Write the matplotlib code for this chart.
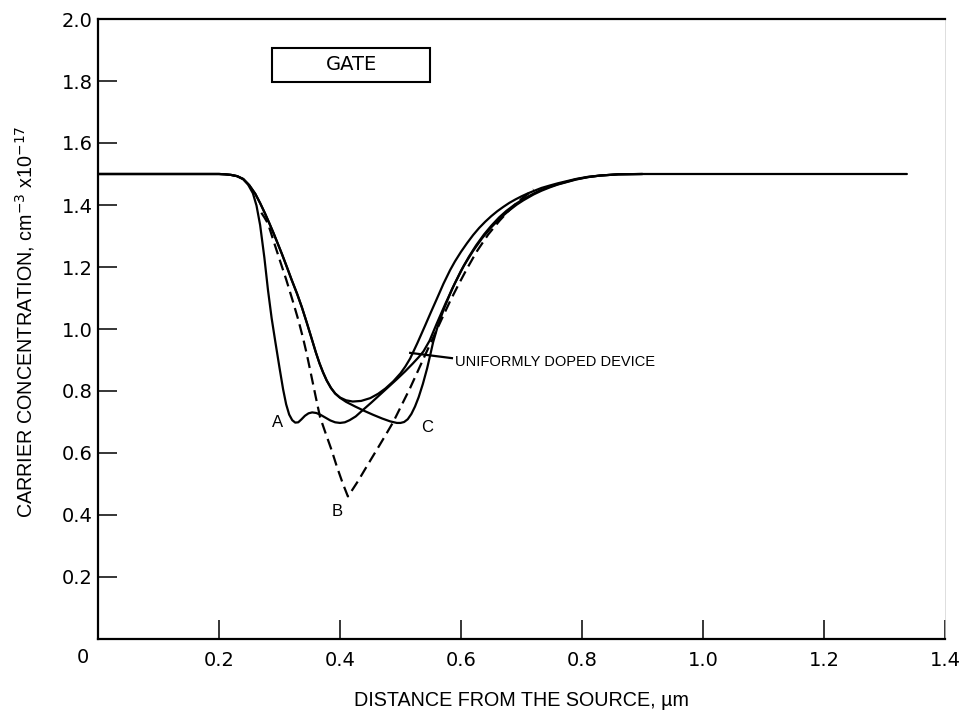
import matplotlib
matplotlib.use("Agg")
import matplotlib.pyplot as plt

# Carrier concentration profiles under the gate (x in um, n in 1e17 cm^-3)
uniform_x = [0.0, 0.20, 0.21, 0.22, 0.23, 0.24, 0.25, 0.26, 0.268, 0.276, 0.283, 0.29,
             0.296, 0.304, 0.312, 0.32, 0.329, 0.337, 0.345, 0.353, 0.36, 0.366, 0.372,
             0.378, 0.385, 0.392, 0.40, 0.41, 0.421, 0.435, 0.45, 0.463, 0.475, 0.488,
             0.50, 0.508, 0.516, 0.528, 0.54, 0.55, 0.56, 0.571, 0.582, 0.59, 0.60,
             0.61, 0.62, 0.63, 0.64, 0.65, 0.66, 0.67, 0.68, 0.69, 0.70, 0.71, 0.72,
             0.733, 0.747, 0.76, 0.775, 0.79, 0.81, 0.83, 0.86, 0.90, 1.0, 1.2, 1.337]
uniform_y = [1.5, 1.5, 1.499, 1.497, 1.493, 1.484, 1.464, 1.436, 1.406, 1.373, 1.342, 1.31,
             1.281, 1.242, 1.201, 1.159, 1.114, 1.07, 1.021, 0.97, 0.925, 0.89, 0.86,
             0.834, 0.81, 0.792, 0.779, 0.77, 0.766, 0.768, 0.777, 0.791, 0.808, 0.831,
             0.857, 0.879, 0.905, 0.955, 1.008, 1.053, 1.097, 1.146, 1.19, 1.218, 1.249,
             1.277, 1.303, 1.326, 1.346, 1.364, 1.38, 1.394, 1.407, 1.418, 1.428, 1.437,
             1.445, 1.455, 1.463, 1.47, 1.477, 1.484, 1.491, 1.495, 1.499, 1.5, 1.5, 1.5,
             1.5]

curve_a_x = [0.0, 0.20, 0.21, 0.22, 0.23, 0.24, 0.248, 0.256, 0.262, 0.268, 0.275, 0.281,
             0.287, 0.293, 0.30, 0.306, 0.311, 0.316, 0.321, 0.326, 0.331, 0.336, 0.342,
             0.348, 0.354, 0.361, 0.368, 0.376, 0.384, 0.392, 0.40, 0.408, 0.416, 0.426,
             0.438, 0.452, 0.466, 0.48, 0.494, 0.508, 0.52, 0.53, 0.538, 0.548, 0.56,
             0.575, 0.59, 0.605, 0.62, 0.635, 0.65, 0.665, 0.68, 0.692, 0.703, 0.72,
             0.733, 0.747, 0.76, 0.775, 0.79, 0.81, 0.83, 0.86, 0.90]
curve_a_y = [1.5, 1.5, 1.499, 1.497, 1.493, 1.483, 1.466, 1.438, 1.398, 1.335, 1.23, 1.125,
             1.035, 0.96, 0.875, 0.805, 0.757, 0.724, 0.706, 0.698, 0.699, 0.708, 0.72,
             0.728, 0.731, 0.729, 0.723, 0.714, 0.705, 0.699, 0.697, 0.699, 0.706, 0.718,
             0.739, 0.763, 0.788, 0.813, 0.838, 0.864, 0.888, 0.909, 0.928, 0.962, 1.018,
             1.085, 1.148, 1.205, 1.252, 1.293, 1.328, 1.358, 1.383, 1.401, 1.415, 1.434,
             1.446, 1.457, 1.466, 1.474, 1.482, 1.49, 1.495, 1.499, 1.5]

curve_c_x = [0.0, 0.20, 0.21, 0.22, 0.23, 0.24, 0.25, 0.26, 0.268, 0.276, 0.283, 0.29,
             0.296, 0.304, 0.312, 0.32, 0.329, 0.337, 0.345, 0.353, 0.36, 0.366, 0.372,
             0.378, 0.385, 0.392, 0.40, 0.41, 0.425, 0.44, 0.455, 0.47, 0.483, 0.494,
             0.50, 0.506, 0.512, 0.518, 0.524, 0.53, 0.537, 0.544, 0.549, 0.554, 0.562,
             0.572, 0.585, 0.60, 0.613, 0.625, 0.638, 0.65, 0.663, 0.675, 0.69, 0.703,
             0.72, 0.733, 0.747, 0.76, 0.775, 0.79, 0.81, 0.83, 0.86, 0.90]
curve_c_y = [1.5, 1.5, 1.499, 1.497, 1.493, 1.484, 1.464, 1.436, 1.406, 1.373, 1.342, 1.31,
             1.281, 1.242, 1.201, 1.159, 1.114, 1.07, 1.021, 0.97, 0.925, 0.89, 0.86,
             0.834, 0.81, 0.792, 0.778, 0.765, 0.75, 0.736, 0.723, 0.711, 0.702, 0.697,
             0.697, 0.70, 0.709, 0.726, 0.75, 0.78, 0.823, 0.873, 0.915, 0.958, 1.012,
             1.066, 1.128, 1.188, 1.233, 1.27, 1.305, 1.333, 1.36, 1.381, 1.403, 1.419,
             1.437, 1.449, 1.459, 1.467, 1.475, 1.483, 1.49, 1.495, 1.499, 1.5]

curve_b_x = [0.27, 0.275, 0.281, 0.29, 0.30, 0.311, 0.322, 0.331, 0.339, 0.345, 0.352,
             0.36, 0.367, 0.376, 0.386, 0.395, 0.404, 0.413, 0.42, 0.43, 0.44, 0.452,
             0.465, 0.476, 0.488, 0.502, 0.516, 0.53, 0.544, 0.557, 0.57, 0.582, 0.595,
             0.61, 0.626, 0.645, 0.664, 0.682, 0.70, 0.72]
curve_b_y = [1.375, 1.36, 1.34, 1.285, 1.225, 1.16, 1.09, 1.03, 0.97, 0.92, 0.855,
             0.78, 0.716, 0.665, 0.61, 0.555, 0.505, 0.46, 0.48, 0.51, 0.543, 0.582,
             0.624, 0.66, 0.70, 0.755, 0.81, 0.87, 0.93, 0.985, 1.04, 1.09, 1.14,
             1.195, 1.25, 1.305, 1.35, 1.388, 1.42, 1.45]

x_ticks = [0.2, 0.4, 0.6, 0.8, 1.0, 1.2, 1.4]
x_tick_labels = ["0.2", "0.4", "0.6", "0.8", "1.0", "1.2", "1.4"]
y_ticks = [0.2, 0.4, 0.6, 0.8, 1.0, 1.2, 1.4, 1.6, 1.8, 2.0]
y_tick_labels = ["0.2", "0.4", "0.6", "0.8", "1.0", "1.2", "1.4", "1.6", "1.8", "2.0"]

curve_labels = [("A", 0.297, 0.697), ("B", 0.395, 0.412), ("C", 0.544, 0.681)]

fig = plt.figure(figsize=(9.61, 7.13), dpi=100)
ax = fig.add_axes([98 / 961, 74 / 713, (945 - 98) / 961, (639 - 19) / 713])

lw = 1.6
for xs, ys in [(uniform_x, uniform_y), (curve_a_x, curve_a_y), (curve_c_x, curve_c_y)]:
    ax.plot(xs, ys, color="black", lw=lw, solid_joinstyle="round",
            solid_capstyle="round")
ax.plot(curve_b_x, curve_b_y, color="black", lw=lw, linestyle=(0, (5, 2.6)))

ax.set_xlim(0, 1.4)
ax.set_ylim(0, 2.0)

for side in ["left", "bottom", "top"]:
    ax.spines[side].set_linewidth(1.6)
ax.spines["right"].set_linewidth(0.5)
ax.spines["right"].set_color("#d0d0d0")

tick_font = dict(family="DejaVu Sans", size=14)
ax.set_xticks(x_ticks)
ax.set_xticklabels(x_tick_labels, **tick_font)
ax.set_yticks(y_ticks)
ax.set_yticklabels(y_tick_labels, **tick_font)
ax.tick_params(axis="both", direction="in", length=13.5, width=1.1, color="black")
ax.tick_params(axis="x", pad=9)
ax.tick_params(axis="y", pad=4)

# origin label shared by both axes
ax.text(-0.025, -0.03, "0", ha="center", va="top", fontsize=14, family="DejaVu Sans",
        transform=ax.transData, clip_on=False)

label_font = dict(family="Liberation Sans", size=10.5)
for name, lx, ly in curve_labels:
    ax.text(lx, ly, name, ha="center", va="center", family="Liberation Sans",
            size=12)

# pointer to the uniformly doped device curve
ax.plot([0.516, 0.585], [0.923, 0.906], color="black", lw=1.6)
ax.text(0.59, 0.893, "UNIFORMLY DOPED DEVICE", ha="left", va="center", **label_font)

# gate electrode
ax.add_patch(plt.Rectangle((0.288, 1.797), 0.261, 0.109, fill=False, lw=1.5,
                           edgecolor="black"))
ax.text(0.4185, 1.853, "GATE", ha="center", va="center", family="DejaVu Sans", size=14)

axis_font = dict(family="Liberation Sans", size=14.2)
fig.text(25 / 961, 1 - 322 / 713, "CARRIER CONCENTRATION, cm$^{-3}$ x10$^{-17}$",
         rotation=90, ha="center", va="center", **axis_font)
fig.text(521 / 961, 1 - 700 / 713, "DISTANCE FROM THE SOURCE, \u00b5m",
         ha="center", va="center", **axis_font)

fig.savefig("out.png", dpi=100)
